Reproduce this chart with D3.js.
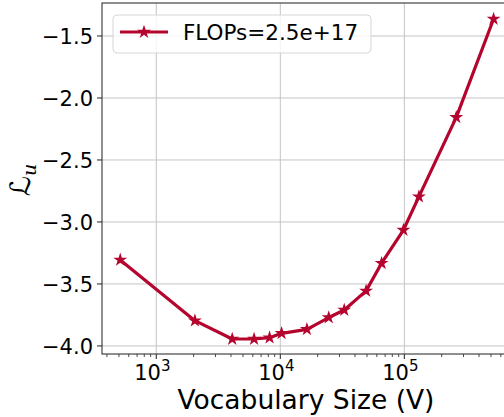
<!DOCTYPE html>
<html><head><meta charset="utf-8">
<script src="https://cdn.jsdelivr.net/npm/d3@7"></script>
<style>body{margin:0;background:#fff;} svg{display:block;font-family:"DejaVu Sans",sans-serif;}</style>
</head><body>
<svg id="c" width="504" height="417"></svg>
<script>
const vocabSizes = [512, 2048, 4096, 6144, 8192, 10240, 16384, 24576, 32768, 49152, 65536, 98304, 131072, 262144, 524288];
const lossValues = [-3.306, -3.796, -3.944, -3.944, -3.933, -3.898, -3.866, -3.771, -3.71, -3.556, -3.333, -3.065, -2.796, -2.156, -1.363];
const seriesLabel = "FLOPs=2.5e+17";
const yTicks = [-4.0, -3.5, -3.0, -2.5, -2.0, -1.5];
const xTickExps = [3, 4, 5];
const xLabel = "Vocabulary Size (V)";

const svg = d3.select("#c");
const L = 102, R = 510, T = 3, B = 354;
const x = d3.scaleLog().domain([365, 711000]).range([L, R]);
const y = d3.scaleLinear().domain([-4.065, -1.234]).range([B, T]);
const color = "#b5052e";
const fs = 21;

// grid
const g = svg.append("g");
xTickExps.forEach(e => {
  g.append("line").attr("x1", x(Math.pow(10,e))).attr("x2", x(Math.pow(10,e)))
   .attr("y1", T).attr("y2", B).attr("stroke", "#c4c4c4").attr("stroke-width", 1);
});
yTicks.forEach(v => {
  g.append("line").attr("x1", L).attr("x2", R).attr("y1", y(v)).attr("y2", y(v))
   .attr("stroke", "#c4c4c4").attr("stroke-width", 1);
});

// spines
svg.append("rect").attr("x", L).attr("y", T).attr("width", R-L).attr("height", B-T)
  .attr("fill", "none").attr("stroke", "#333").attr("stroke-width", 1.1);

// y ticks
const fmt = d3.format(".1f");
yTicks.forEach(v => {
  svg.append("line").attr("x1", L-5).attr("x2", L).attr("y1", y(v)).attr("y2", y(v)).attr("stroke", "#333").attr("stroke-width", 1.1);
  svg.append("text").attr("x", L-9).attr("y", y(v)).attr("dy", "0.36em")
    .attr("text-anchor", "end").attr("font-size", fs).attr("fill", "#000").text(fmt(v));
});

// x major ticks
xTickExps.forEach(e => {
  const px = x(Math.pow(10,e));
  svg.append("line").attr("x1", px).attr("x2", px).attr("y1", B).attr("y2", B+5).attr("stroke", "#333").attr("stroke-width", 1.1);
  const t = svg.append("text").attr("x", px - 4).attr("y", 380).attr("text-anchor", "middle").attr("font-size", fs).attr("fill", "#000");
  t.append("tspan").text("10");
  t.append("tspan").attr("font-size", 15).attr("dy", -9).text(String(e));
});
// x minor ticks
for (let e = 2; e <= 5; e++) {
  for (let m = 2; m <= 9; m++) {
    const v = m * Math.pow(10, e);
    if (v < x.domain()[0] || v > x.domain()[1]) continue;
    svg.append("line").attr("x1", x(v)).attr("x2", x(v)).attr("y1", B).attr("y2", B+3).attr("stroke", "#333").attr("stroke-width", 0.9);
  }
}

// labels
svg.append("text").attr("x", (L+R)/2).attr("y", 409).attr("text-anchor", "middle")
  .attr("font-size", 26.5).attr("fill", "#000").text(xLabel);
const yl = svg.append("text").attr("transform", "translate(30,180) rotate(-90)")
  .attr("text-anchor", "middle").attr("font-size", 28).attr("fill", "#000")
  .attr("font-family", "DejaVu Sans");
yl.append("tspan").text("ℒ");
yl.append("tspan").attr("font-size", 19).attr("font-style", "italic").attr("font-family", "DejaVu Serif").attr("dy", 6).text("u");

// data line
const data = vocabSizes.map((v, i) => ({v, l: lossValues[i]}));
const line = d3.line().x(d => x(d.v)).y(d => y(d.l));
svg.append("path").datum(data).attr("d", line).attr("fill", "none")
  .attr("stroke", color).attr("stroke-width", 3.2).attr("stroke-linejoin", "round");
const star = d3.symbol().type(d3.symbolStar).size(60);
svg.selectAll(".pt").data(data).enter().append("path")
  .attr("transform", d => `translate(${x(d.v)},${y(d.l)})`).attr("d", star).attr("fill", color);

// legend
const lg = svg.append("g");
lg.append("rect").attr("x", 113).attr("y", 15).attr("width", 258).attr("height", 38).attr("rx", 4)
  .attr("fill", "#fff").attr("fill-opacity", 0.8).attr("stroke", "#d6d6d6").attr("stroke-width", 1);
lg.append("line").attr("x1", 120).attr("x2", 168).attr("y1", 32).attr("y2", 32).attr("stroke", color).attr("stroke-width", 3.2);
lg.append("path").attr("transform", "translate(144,32)").attr("d", star).attr("fill", color);
lg.append("text").attr("x", 183).attr("y", 32).attr("dy", "0.36em").attr("font-size", 21.5).attr("fill", "#000").text(seriesLabel);
</script>
</body></html>
